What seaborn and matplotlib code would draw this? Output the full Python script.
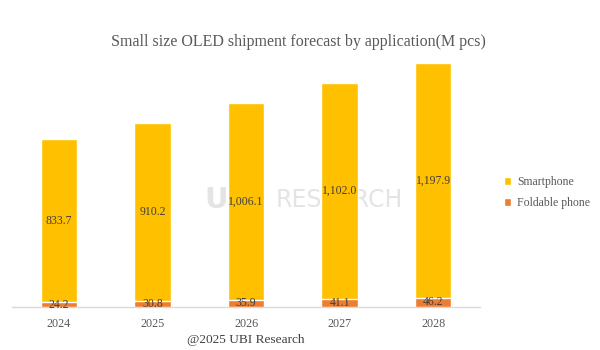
import matplotlib
matplotlib.use("Agg")
import matplotlib.pyplot as plt
import seaborn as sns
import pandas as pd
from matplotlib.patches import Patch

years = ["2024", "2025", "2026", "2027", "2028"]
smartphone = [833.7, 910.2, 1006.1, 1102.0, 1197.9]
foldable = [24.2, 30.8, 35.9, 41.1, 46.2]

sns.set_theme(style="white")
plt.rcParams["font.family"] = ["Liberation Serif", "DejaVu Serif"]

df = pd.DataFrame({"year": years, "smartphone": smartphone, "foldable": foldable})
df["total"] = df["smartphone"] + df["foldable"]

C_SMART = "#FFC000"
C_FOLD = "#ED7D31"

fig = plt.figure(figsize=(6, 3.5), dpi=100)
ax = fig.add_axes([0.02, 0.123, 0.78, 0.734])

# faint watermark behind the bars
ax.text(0.565, 0.428, "RESEARCH", fontsize=17, color="#e4e4e4",
        ha="center", va="center", zorder=0.5, family="DejaVu Sans",
        transform=fig.transFigure, clip_on=False)
ax.text(0.36, 0.428, "U", fontsize=21, color="#e4e4e4", ha="center",
        va="center", zorder=0.5, family="DejaVu Sans", fontweight="bold",
        transform=fig.transFigure, clip_on=False)

sns.barplot(data=df, x="year", y="total", color=C_SMART, width=0.39,
            saturation=1, ax=ax, zorder=2)
sns.barplot(data=df, x="year", y="foldable", color=C_FOLD, width=0.39,
            saturation=1, ax=ax, zorder=3)
ax.patch.set_alpha(0)

for i, (s, f) in enumerate(zip(smartphone, foldable)):
    ax.text(i, f + s / 2, f"{s:,.1f}", ha="center", va="center",
            fontsize=8.5, color="#404040", zorder=4)
    ax.text(i, f / 2, f"{f:.1f}", ha="center", va="center",
            fontsize=8.5, color="#404040", zorder=4)

ax.set_ylim(0, 1311)
ax.set_xlim(-0.5, 4.5)
ax.set_xlabel("")
ax.set_ylabel("")
ax.set_yticks([])
ax.tick_params(axis="x", length=0, labelsize=8.7, labelcolor="#595959", pad=8)
for sp in ["top", "right", "left"]:
    ax.spines[sp].set_visible(False)
ax.spines["bottom"].set_color("#d9d9d9")
ax.spines["bottom"].set_linewidth(1)

fig.text(0.4975, 0.88, "Small size OLED shipment forecast by application(M pcs)",
         ha="center", va="center", fontsize=11.5, color="#595959")
fig.text(0.41, 0.029, "@2025 UBI Research", ha="center", va="center",
         fontsize=9.6, color="#404040")

handles = [Patch(facecolor=C_SMART, label="Smartphone"),
           Patch(facecolor=C_FOLD, label="Foldable phone")]
fig.legend(handles=handles, loc="center left", bbox_to_anchor=(0.822, 0.45),
           frameon=False, fontsize=8.5, handlelength=0.65, handleheight=0.65,
           handletextpad=0.5, labelspacing=0.75, labelcolor="#595959")

fig.savefig("out.png", dpi=100)
